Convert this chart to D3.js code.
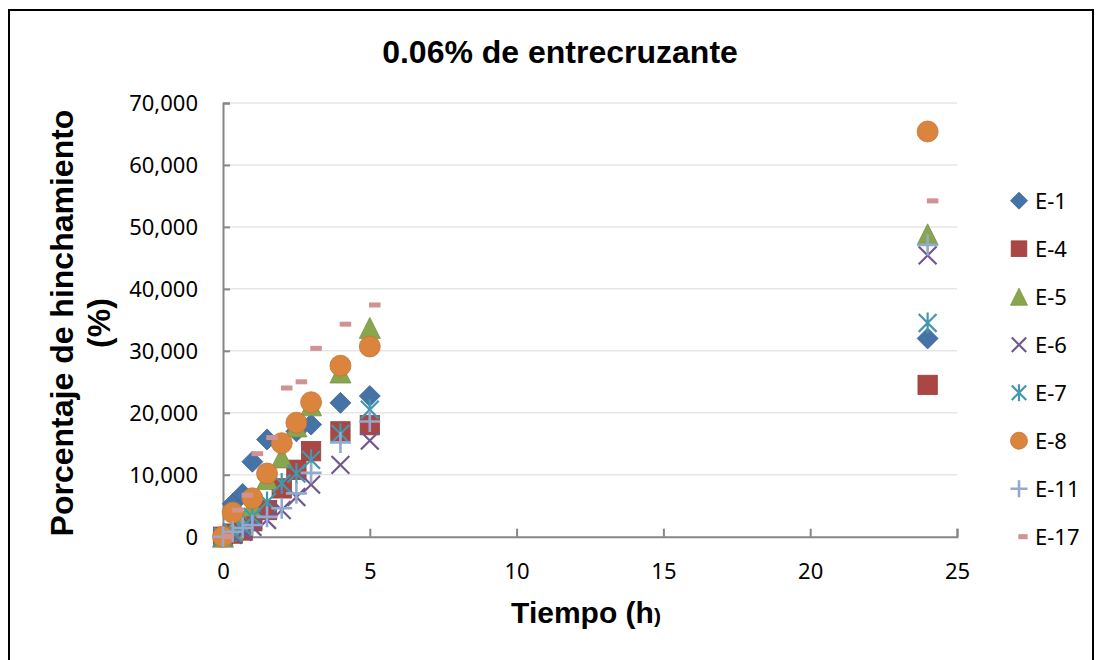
<!DOCTYPE html>
<html>
<head>
<meta charset="utf-8">
<script src="https://cdn.jsdelivr.net/npm/d3@7/dist/d3.min.js"></script>
<style>
  html, body { margin: 0; padding: 0; background: #ffffff; }
  svg { display: block; }
</style>
</head>
<body>
<svg id="chart" width="1096" height="660"></svg>
<script>
// Swelling percentage vs. time, 0.06% crosslinker
const hours     = [0, 0.33, 0.67, 1, 1.5, 2, 2.5, 3, 4, 5, 24];
const hoursE17  = [0.17, 0.5, 0.83, 1.17, 1.67, 2.17, 2.67, 3.17, 4.17, 5.17, 24.17];

const e1  = [0, 5300, 6900, 12100, 15700, null, 17000, 18100, 21600, 22700, 32000];
const e4  = [0, 500, 1000, 2500, 4300, 7800, 10800, 13800, 17000, 18000, 24500];
const e5  = [0, 1000, 2500, 5000, 9300, 12800, 17800, 21200, 26500, 33700, 48800];
const e6  = [0, 300, 800, 1600, 2700, 4300, 6400, 8400, 11600, 15500, 45400];
const e7  = [0, 700, 1600, 3200, 5600, 8600, 10200, 12400, 16600, 20500, 34500];
const e8  = [0, 3900, null, 6200, 10200, 15100, 18400, 21700, 27600, 30700, 65400];
const e11 = [0, 800, 1400, 1900, 3200, 4600, 7000, 10300, 15200, 18600, 47100];
const e17 = [0, 4300, 6700, 13400, 16000, 24000, 25000, 30400, 34300, 37400, 54200];

const seriesNames  = ["E-1", "E-4", "E-5", "E-6", "E-7", "E-8", "E-11", "E-17"];
const seriesValues = [e1, e4, e5, e6, e7, e8, e11, e17];
const seriesTimes  = [hours, hours, hours, hours, hours, hours, hours, hoursE17];
const seriesShapes = ["diamond", "square", "triangle", "x", "star", "circle", "plus", "dash"];
const seriesColors = ["#4572A7", "#AA4643", "#89A54E", "#71588F", "#4198AF", "#DB843D", "#93A9CF", "#D19392"];

const xTicks = [0, 5, 10, 15, 20, 25];
const yTicks = [0, 10000, 20000, 30000, 40000, 50000, 60000, 70000];

const svg = d3.select("#chart");

// outer chart frame
svg.append("rect")
  .attr("x", 9).attr("y", 10)
  .attr("width", 1084).attr("height", 660)
  .attr("fill", "none").attr("stroke", "#000").attr("stroke-width", 2);

const x = d3.scaleLinear().domain([0, 25]).range([223, 957]);
const y = d3.scaleLinear().domain([0, 70000]).range([536.7, 103]);

// horizontal gridlines
svg.append("g").selectAll("line").data(yTicks.filter(d => d > 0)).join("line")
  .attr("x1", x(0)).attr("x2", x(25))
  .attr("y1", d => y(d)).attr("y2", d => y(d))
  .attr("stroke", "#e6e6e6").attr("stroke-width", 1.5);

// y axis
const yAxis = svg.append("g")
  .attr("transform", `translate(${x(0)},0)`)
  .call(d3.axisLeft(y).tickValues(yTicks).tickSize(-7).tickPadding(25).tickFormat(d3.format(",")));
yAxis.select(".domain").attr("stroke", "#868686").attr("stroke-width", 2);
yAxis.selectAll(".tick line").attr("stroke", "#868686").attr("stroke-width", 2);
yAxis.selectAll(".tick text")
  .attr("font-family", "'Noto Sans', sans-serif").attr("font-size", 22).attr("fill", "#000")
  .attr("dy", "0.34em");

// x axis
const xAxis = svg.append("g")
  .attr("transform", `translate(0,${y(0)})`)
  .call(d3.axisBottom(x).tickValues(xTicks).tickSize(-8).tickPadding(35).tickFormat(d3.format("d")));
xAxis.select(".domain").attr("stroke", "#868686").attr("stroke-width", 2);
xAxis.selectAll(".tick line").attr("stroke", "#868686").attr("stroke-width", 2);
xAxis.selectAll(".tick text")
  .attr("font-family", "'Noto Sans', sans-serif").attr("font-size", 22).attr("fill", "#000")
  .attr("dy", "0.35em");

// marker drawing
function drawMarker(g, shape, color, s) {
  const h = s / 2;
  const edge = d3.color(color).darker(0.35);
  if (shape === "diamond") {
    g.append("path").attr("d", `M0,${-h}L${h},0L0,${h}L${-h},0Z`)
      .attr("fill", color).attr("stroke", edge).attr("stroke-width", 0.8);
  } else if (shape === "square") {
    const q = h * 0.92;
    g.append("rect").attr("x", -q).attr("y", -q).attr("width", 2 * q).attr("height", 2 * q)
      .attr("fill", color).attr("stroke", edge).attr("stroke-width", 0.8);
  } else if (shape === "triangle") {
    g.append("path").attr("d", `M0,${-h}L${h},${h}L${-h},${h}Z`)
      .attr("fill", color).attr("stroke", edge).attr("stroke-width", 0.8);
  } else if (shape === "circle") {
    g.append("circle").attr("r", h)
      .attr("fill", color).attr("stroke", edge).attr("stroke-width", 0.8);
  } else if (shape === "x") {
    const a = h * 0.85;
    g.append("path").attr("d", `M${-a},${-a}L${a},${a}M${-a},${a}L${a},${-a}`)
      .attr("stroke", color).attr("stroke-width", 2.2).attr("fill", "none");
  } else if (shape === "star") {
    const a = h * 0.85;
    g.append("path").attr("d", `M${-a},${-a}L${a},${a}M${-a},${a}L${a},${-a}M0,${-h}L0,${h}`)
      .attr("stroke", color).attr("stroke-width", 2.2).attr("fill", "none");
  } else if (shape === "plus") {
    g.append("path").attr("d", `M${-h},0L${h},0M0,${-h}L0,${h}`)
      .attr("stroke", color).attr("stroke-width", 2.6).attr("fill", "none");
  } else if (shape === "dash") {
    g.append("rect").attr("x", -h * 0.55).attr("y", -2.5).attr("width", h * 1.1).attr("height", 5)
      .attr("fill", color);
  }
}

// series points
seriesNames.forEach((name, i) => {
  const pts = seriesValues[i]
    .map((v, j) => ({ t: seriesTimes[i][j], v }))
    .filter(p => p.v !== null);
  const g = svg.append("g").attr("class", "series");
  g.selectAll("g").data(pts).join("g")
    .attr("transform", p => `translate(${x(p.t)},${y(p.v)})`)
    .each(function () { drawMarker(d3.select(this), seriesShapes[i], seriesColors[i], 21); });
});

// legend
function shapeOffset(i) { return seriesShapes[i] === "dash" ? 1023 : 1019; }
const legend = svg.append("g");
seriesNames.forEach((name, i) => {
  const cy = 200.7 + i * 48;
  const m = legend.append("g").attr("transform", `translate(${shapeOffset(i)},${cy})`);
  drawMarker(m, seriesShapes[i], seriesColors[i], 17);
  legend.append("text")
    .attr("x", 1035).attr("y", cy).attr("dy", "0.36em")
    .attr("font-family", "'Noto Sans', sans-serif").attr("font-size", 22).attr("fill", "#000")
    .text(name);
});

// titles
svg.append("text")
  .attr("x", 560).attr("y", 63).attr("text-anchor", "middle")
  .attr("font-family", "'Liberation Sans', Arial, sans-serif").attr("font-weight", "bold")
  .attr("font-size", 32).attr("fill", "#000")
  .text("0.06% de entrecruzante");

const xt = svg.append("text")
  .attr("x", 586).attr("y", 623).attr("text-anchor", "middle")
  .attr("font-family", "'Liberation Sans', Arial, sans-serif").attr("font-weight", "bold")
  .attr("font-size", 30).attr("fill", "#000");
xt.append("tspan").text("Tiempo (h");
xt.append("tspan").attr("font-size", 21).text(")");

const yt = svg.append("text")
  .attr("transform", "translate(73,323) rotate(-90)")
  .attr("text-anchor", "middle")
  .attr("font-family", "'Liberation Sans', Arial, sans-serif").attr("font-weight", "bold")
  .attr("font-size", 32).attr("fill", "#000");
yt.append("tspan").attr("x", 0).attr("y", 0).text("Porcentaje de hinchamiento");
yt.append("tspan").attr("x", 0).attr("y", 37).text("(%)");
</script>
</body>
</html>
